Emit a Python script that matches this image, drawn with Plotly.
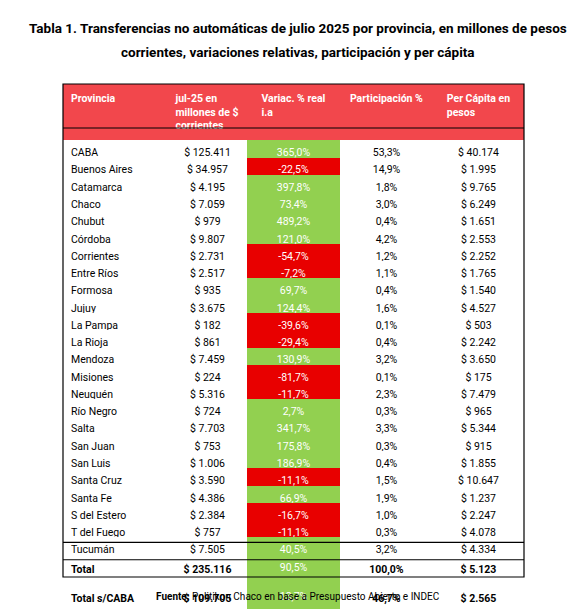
import plotly.graph_objects as go

provincias = ["CABA","Buenos Aires","Catamarca","Chaco","Chubut","Córdoba","Corrientes","Entre Ríos","Formosa","Jujuy","La Pampa","La Rioja","Mendoza","Misiones","Neuquén","Río Negro","Salta","San Juan","San Luis","Santa Cruz","Santa Fe","S del Estero","T del Fuego","Tucumán","Total","Total s/CABA"]
millones = [125411,34957,4195,7059,979,9807,2731,2517,935,3675,182,861,7459,224,5316,724,7703,753,1006,3590,4386,2384,757,7505,235116,109705]
variacion = [365.0,-22.5,397.8,73.4,489.2,121.0,-54.7,-7.2,69.7,124.4,-39.6,-29.4,130.9,-81.7,-11.7,2.7,341.7,175.8,186.9,-11.1,66.9,-16.7,-11.1,40.5,90.5,13.7]
participacion = [53.3,14.9,1.8,3.0,0.4,4.2,1.2,1.1,0.4,1.6,0.1,0.4,3.2,0.1,2.3,0.3,3.3,0.3,0.4,1.5,1.9,1.0,0.3,3.2,100.0,46.7]
per_capita = [40174,1995,9765,6249,1651,2553,2252,1765,1540,4527,503,2242,3650,175,7479,965,5344,915,1855,10647,1237,2247,4078,4334,5123,2565]
headers = ["Provincia","jul-25 en<br>millones de $<br>corrientes","Variac. % real<br>i.a","Participación %","Per Cápita en<br>pesos"]

def miles(v):
    return f"{v:,}".replace(",", ".")
def pct(v):
    return f"{v:.1f}%".replace(".", ",")

n = len(provincias)
bold = lambda s, i: f"<b>{s}</b>" if i >= n - 2 else s
col0 = [bold(p, i) for i, p in enumerate(provincias)]
col1 = [bold("$ " + miles(v), i) for i, v in enumerate(millones)]
col2 = [pct(v) for v in variacion]
col3 = [bold(pct(v), i) for i, v in enumerate(participacion)]
col4 = [bold("$ " + miles(v), i) for i, v in enumerate(per_capita)]

GREEN = "#92D050"; RED = "#E80000"
var_fill = [GREEN if v >= 0 else RED for v in variacion]
white = ["white"] * n
fills = [white, white, var_fill, white, white]

W, H = 579, 609
L, R, T, B = 55, 516, 76, 569
HH = 44
row_h = (B - T - HH) / n

fig = go.Figure(go.Table(
    domain=dict(x=[L / W, R / W], y=[0, 1 - T / H]),
    columnwidth=[105, 79, 93, 93, 91],
    header=dict(values=[f"<b>{h}</b>" for h in headers], fill_color="#F2474C",
                line=dict(color="#F2474C", width=0),
                font=dict(color="white", size=10.5, family="Roboto"),
                align=["left", "center", "center", "center", "center"], height=HH),
    cells=dict(values=[col0, col1, col2, col3, col4], fill_color=fills,
               line=dict(color=fills, width=0),
               font=dict(color=["black", "black", "white", "black", "black"], size=10.5, family="Roboto"),
               align=["left", "center", "center", "center", "center"], height=row_h),
))

shapes = [
    dict(type="rect", xref="paper", yref="paper", x0=L / W, x1=R / W, y0=1 - B / H, y1=1 - T / H,
         line=dict(color="black", width=1.2)),
    dict(type="line", xref="paper", yref="paper", x0=L / W, x1=R / W, y0=1 - (T + HH) / H, y1=1 - (T + HH) / H,
         line=dict(color="black", width=1.2)),
]
for k in (2, 1):
    y = B - k * row_h
    shapes.append(dict(type="line", xref="paper", yref="paper", x0=L / W, x1=R / W,
                       y0=1 - y / H, y1=1 - y / H, line=dict(color="black", width=1.2)))
shapes.append(dict(type="line", xref="paper", yref="paper", x0=0, x1=1, y0=1 - 606 / H, y1=1 - 606 / H,
                   line=dict(color="#A9D08E", width=3)))

fig.update_layout(
    width=W, height=H, margin=dict(l=0, r=0, t=0, b=0), paper_bgcolor="white",
    shapes=shapes,
    annotations=[
        dict(text="<b>Tabla 1. Transferencias no automáticas de julio 2025 por provincia, en millones de pesos</b>",
             x=0.5, y=1 - 10 / H, xref="paper", yref="paper", showarrow=False,
             font=dict(size=13.5, family="Roboto", color="black")),
        dict(text="<b>corrientes, variaciones relativas, participación y per cápita</b>",
             x=0.5, y=1 - 34 / H, xref="paper", yref="paper", showarrow=False,
             font=dict(size=13.5, family="Roboto", color="black")),
        dict(text="<b>Fuente:</b> Politikon Chaco en base a Presupuesto Abierto e INDEC",
             x=0.5, y=1 - 596 / H, xref="paper", yref="paper", showarrow=False,
             font=dict(size=10, family="Roboto", color="black")),
    ],
)
fig.write_html("out.html")
